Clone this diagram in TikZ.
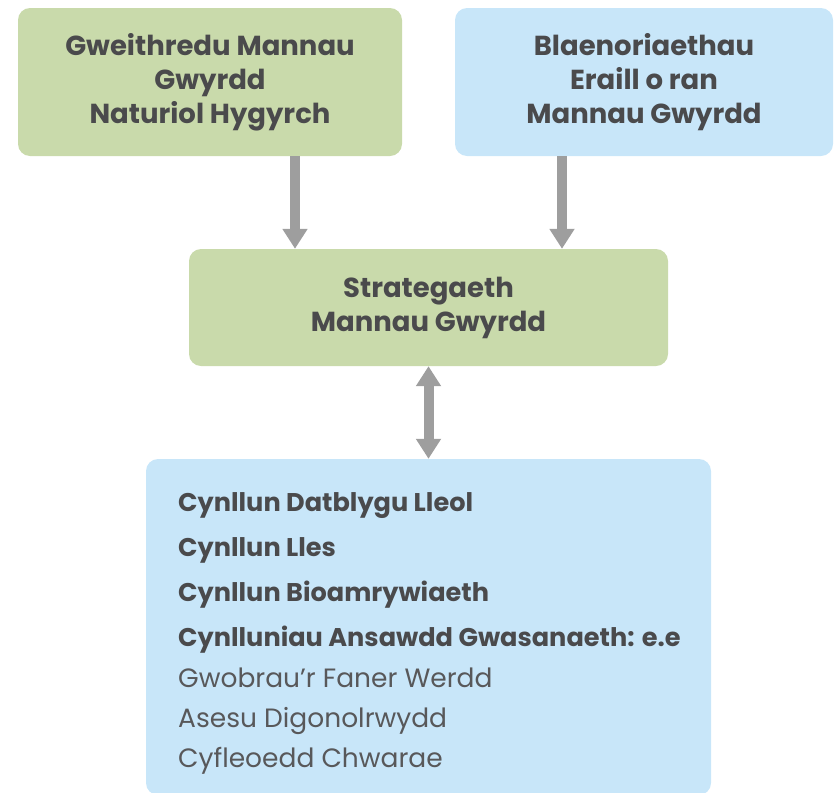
\documentclass[tikz,border=0pt]{standalone}
\usepackage{fontspec}
\setmainfont{Poppins}
\usetikzlibrary{arrows.meta}
\definecolor{boxgreen}{RGB}{201,218,171}
\definecolor{boxblue}{RGB}{200,230,249}
\definecolor{txt}{RGB}{74,74,76}
\definecolor{txtlight}{RGB}{88,88,90}
\definecolor{arrowgray}{RGB}{158,158,158}
\tikzset{
  box/.style={rectangle, rounded corners=12pt, draw=none, inner sep=0pt, align=center,
    text=txt, font=\fontsize{27.5}{34}\selectfont\bfseries},
  greenbox/.style={box, fill=boxgreen},
  bluebox/.style={box, fill=boxblue},
  conn/.style={draw=arrowgray, line width=10pt, -{Triangle[width=24pt,length=20pt]}},
  dconn/.style={draw=arrowgray, line width=10pt, {Triangle[width=24pt,length=20pt]}-{Triangle[width=24pt,length=20pt]}},
  item/.style={anchor=base west, inner sep=0pt, text=txt, font=\fontsize{25.6}{30}\selectfont\bfseries},
  subitem/.style={item, text=txtlight, font=\fontsize{26.5}{30}\selectfont},
}
\begin{document}
\begin{tikzpicture}[x=1pt,y=-1pt]
\useasboundingbox (0,0) rectangle (836,793);
\node[greenbox, minimum width=384pt, minimum height=148pt] (a) at (210,82)
  {Gweithredu Mannau\\Gwyrdd\\Naturiol Hygyrch};
\node[bluebox, minimum width=378pt, minimum height=148pt] (b) at (644,82)
  {Blaenoriaethau\\Eraill o ran\\Mannau Gwyrdd};
\node[greenbox, minimum width=479pt, minimum height=117pt] (c) at (428.5,307.5)
  {Strategaeth\\Mannau Gwyrdd};
\node[bluebox, minimum width=565pt, minimum height=336pt] (d) at (428.5,627) {};
\node[item] (l1) at (178,511.5) {Cynllun Datblygu Lleol};
\node[item] (l2) at (178,556.5) {Cynllun Lles};
\node[item] (l3) at (178,601.5) {Cynllun Bioamrywiaeth};
\node[item] (l4) at (178,646.5) {Cynlluniau Ansawdd Gwasanaeth: e.e};
\node[subitem] (l5) at (178,687.5) {Gwobrau’r Faner Werdd};
\node[subitem] (l6) at (178,727.5) {Asesu Digonolrwydd};
\node[subitem] (l7) at (178,767) {Cyfleoedd Chwarae};
\draw[conn] (a.south -| 295,0) -- (c.north -| 295,0);
\draw[conn] (b.south -| 562,0) -- (c.north -| 562,0);
\draw[dconn] (c.south) -- (d.north);
\end{tikzpicture}
\end{document}
